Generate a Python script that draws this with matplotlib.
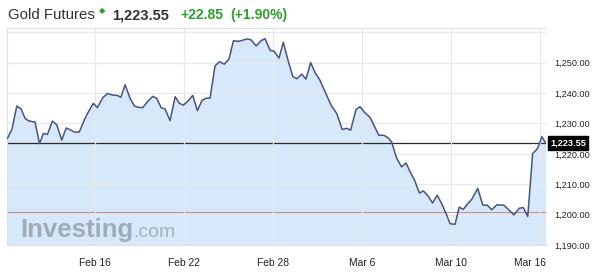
import matplotlib
matplotlib.use("Agg")
import matplotlib.pyplot as plt
import matplotlib.transforms as mtransforms

# trading-day offsets from Feb 16 (each gridline = 4 sessions)
days = [-3.94, -3.74, -3.52, -3.33, -3.15, -3.00, -2.77, -2.70, -2.50, -2.32,
        -2.14, -1.92, -1.72, -1.50, -1.30, -1.12, -0.90, -0.71, -0.45, -0.30,
        -0.08, 0.10, 0.35, 0.55, 0.82, 1.00, 1.16, 1.35, 1.57, 1.77,
        1.95, 2.14, 2.40, 2.59, 2.77, 2.97, 3.15, 3.37, 3.60, 3.79,
        3.97, 4.19, 4.39, 4.60, 4.80, 4.99, 5.17, 5.39, 5.59, 5.81,
        6.02, 6.22, 6.44, 6.64, 6.84, 7.01, 7.24, 7.46, 7.64, 7.87,
        8.04, 8.27, 8.46, 8.69, 8.89, 9.07, 9.29, 9.48, 9.69, 9.89,
        10.08, 10.34, 10.61, 10.86, 11.11, 11.31, 11.49, 11.73, 11.91, 12.13,
        12.36, 12.58, 12.76, 12.99, 13.18, 13.33, 13.56, 13.78, 13.98, 14.16,
        14.35, 14.58, 14.76, 14.98, 15.17, 15.38, 15.58, 15.78, 15.96, 16.18,
        16.37, 16.55, 16.73, 16.93, 17.20, 17.43, 17.63, 17.83, 18.06, 18.38,
        18.62, 18.83, 19.07, 19.25, 19.45, 19.67, 19.85, 19.92, 20.08, 20.26]
prices = [1225.1, 1228.0, 1235.7, 1234.8, 1231.7, 1230.9, 1230.5, 1230.5, 1223.4, 1226.7,
          1226.4, 1230.8, 1229.5, 1224.5, 1228.5, 1227.9, 1227.1, 1227.2, 1231.7, 1233.8,
          1236.6, 1235.2, 1238.5, 1239.8, 1239.3, 1239.2, 1238.6, 1242.7, 1238.3, 1235.7,
          1235.3, 1235.2, 1237.5, 1238.9, 1238.3, 1235.2, 1234.7, 1230.9, 1238.8, 1236.6,
          1236.0, 1237.5, 1239.2, 1234.2, 1237.5, 1238.3, 1238.3, 1248.9, 1250.3, 1249.5,
          1251.2, 1257.2, 1257.0, 1257.4, 1257.8, 1257.5, 1255.5, 1257.2, 1257.9, 1254.0,
          1253.8, 1251.5, 1256.7, 1250.3, 1245.4, 1244.7, 1246.2, 1244.6, 1250.0, 1246.7,
          1244.6, 1240.4, 1236.0, 1233.3, 1228.0, 1228.4, 1227.8, 1234.6, 1235.5, 1233.5,
          1232.0, 1228.7, 1226.1, 1226.1, 1225.2, 1223.9, 1218.5, 1215.7, 1217.0, 1214.1,
          1211.5, 1207.1, 1207.8, 1206.0, 1203.8, 1206.4, 1203.6, 1200.3, 1197.0, 1196.8,
          1202.5, 1201.7, 1203.4, 1205.0, 1208.6, 1203.1, 1203.1, 1201.6, 1203.2, 1203.1,
          1201.4, 1199.9, 1202.1, 1202.3, 1199.4, 1220.1, 1221.4, 1222.3, 1225.6, 1223.55]

tick_pos = [0, 4, 8, 12, 16, 20]
tick_labels = ["Feb 16", "Feb 22", "Feb 28", "Mar 6", "Mar 10", "Mar 16"]
y_ticks = [1190, 1200, 1210, 1220, 1230, 1240, 1250]

last_price = 1223.55
prev_close = 1200.70
change = 22.85
change_pct = 1.90

plt.rcParams["font.family"] = ["Liberation Sans", "DejaVu Sans"]

fig = plt.figure(figsize=(6, 2.79), dpi=100)
ax = fig.add_axes([7 / 600, 34 / 279, 539 / 600, 217 / 279])

ymin, ymax = 1190, 1261.4
ax.fill_between(days, prices, ymin, color="#d7e8fb", zorder=0.3, linewidth=0)
ax.plot(days, prices, color="#47547c", linewidth=1.1, zorder=3)
ax.axhline(prev_close, color="#c88a8f", linewidth=0.8, zorder=2)
ax.axhline(last_price, color="#2b2b2b", linewidth=0.9, zorder=2)

ax.set_xlim(-3.96, 20.27)
ax.set_ylim(ymin, ymax)
ax.set_yticks(y_ticks + [1260])
ax.set_yticklabels([f"{v:,.2f}" for v in y_ticks] + [""])
ax.yaxis.tick_right()
ax.tick_params(axis="y", length=0, pad=6, labelsize=6.6, labelcolor="#222222")
ax.set_xticks(tick_pos)
ax.set_xticklabels(tick_labels)
ax.tick_params(axis="x", length=0, pad=9, labelsize=7.4, labelcolor="#222222")
lbl = ax.get_xticklabels()[-1]
lbl.set_horizontalalignment("right")
lbl.set_transform(lbl.get_transform() + mtransforms.ScaledTranslation(6 / 100, 0, fig.dpi_scale_trans))

ax.grid(True, color="#e4e8ef", linewidth=0.9)
ax.set_axisbelow(False)
for gl in ax.get_xgridlines() + ax.get_ygridlines():
    gl.set_zorder(0.5)
for side in ["left", "top", "bottom"]:
    ax.spines[side].set_color("#dde1e7")
    ax.spines[side].set_linewidth(0.8)
ax.spines["right"].set_visible(False)

# current price tag
ax.annotate(f"{last_price:,.2f}", xy=(1.0, last_price),
            xycoords=("axes fraction", "data"), xytext=(3, 0),
            textcoords="offset points", ha="left", va="center",
            fontsize=6.6, fontweight="bold", color="white",
            bbox=dict(boxstyle="square,pad=0.25", fc="black", ec="black"))

# watermark
fig.text(20 / 600, 1 - 237 / 279, "Investing", fontsize=18.5, fontweight="bold",
         color="#a0abb8", va="baseline", ha="left")
fig.text(133 / 600, 1 - 237 / 279, ".com", fontsize=14, color="#a7b1bd",
         va="baseline", ha="left")

# header
base_y = 1 - 19 / 279
fig.text(8 / 600, base_y, "Gold Futures", fontsize=10.8, color="#333333", va="baseline")
fig.text(99 / 600, 1 - 11 / 279, "\u25c6", fontsize=6, color="#2ea02e", va="center",
         family="DejaVu Sans")
fig.text(112 / 600, base_y, f"{last_price:,.2f}", fontsize=10.5, fontweight="bold",
         color="#333333", va="baseline")
fig.text(180 / 600, base_y, f"+{change:.2f}", fontsize=10, fontweight="bold",
         color="#2ca02c", va="baseline")
fig.text(230 / 600, base_y, f"(+{change_pct:.2f}%)", fontsize=10, fontweight="bold",
         color="#2ca02c", va="baseline")

fig.savefig("out.png", dpi=100)
